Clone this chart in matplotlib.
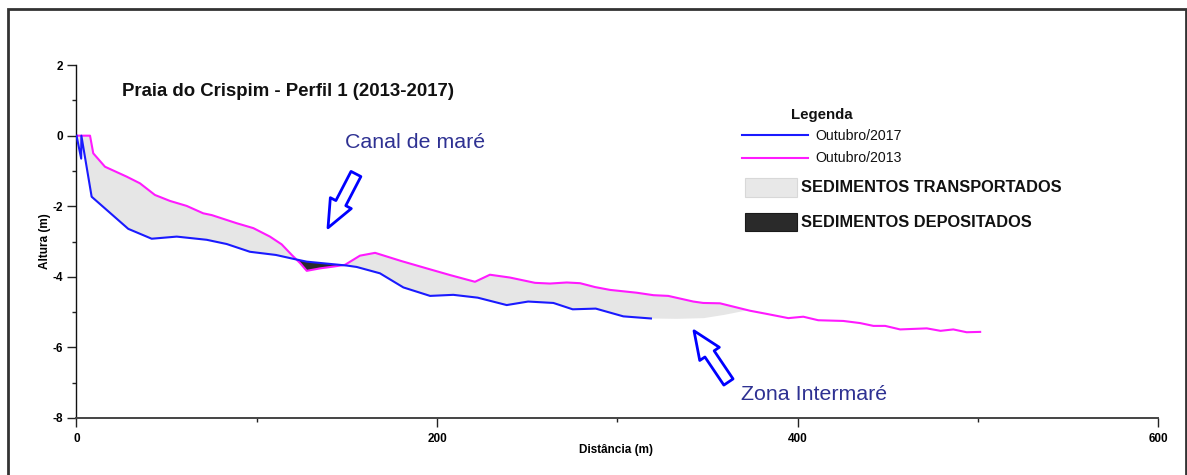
import numpy as np
import matplotlib
matplotlib.use("Agg")
import matplotlib.pyplot as plt
from matplotlib.patches import Rectangle, FancyArrowPatch
from matplotlib.lines import Line2D

# Beach profile surveys: distance along profile (m) and elevation (m)
dist_2013 = [0, 7.5, 9.3, 15.8, 27.8, 35.2, 43.5, 51.9, 61.1, 70.3, 75.0, 88.8,
             98.1, 107.3, 113.8, 119.4, 124.0, 127.7, 135.1, 142.4, 148.9, 157.2,
             165.6, 180.0, 194.2, 207.2, 221.0, 229.3, 240.4, 254.3, 262.6, 271.9,
             279.3, 287.6, 295.9, 310.7, 320.0, 328.2, 342.1, 347.6, 356.9, 362.4,
             373.5, 382.8, 394.8, 403.1, 411.4, 425.3, 434.6, 442.0, 448.5, 456.8,
             471.6, 479.2, 486.3, 493.7, 501.2]
alt_2013 = [0, 0, -0.50, -0.88, -1.16, -1.35, -1.68, -1.85, -1.99, -2.20, -2.25, -2.48,
            -2.62, -2.86, -3.08, -3.38, -3.61, -3.83, -3.76, -3.71, -3.66, -3.40,
            -3.32, -3.55, -3.76, -3.95, -4.14, -3.94, -4.02, -4.17, -4.19, -4.16,
            -4.18, -4.29, -4.37, -4.45, -4.52, -4.54, -4.70, -4.74, -4.75, -4.82,
            -4.96, -5.05, -5.17, -5.13, -5.23, -5.25, -5.31, -5.39, -5.39, -5.49,
            -5.46, -5.53, -5.49, -5.57, -5.56]

dist_2017 = [0, 2.6, 2.7, 8.4, 28.7, 41.7, 55.6, 72.2, 83.3, 96.2, 110.6, 121.2,
             127.7, 149.9, 155.4, 168.3, 181.3, 196.1, 209.0, 222.5, 238.6, 250.5,
             264.5, 275.2, 288.0, 303.3, 318.6]
alt_2017 = [0, -0.65, 0, -1.73, -2.64, -2.92, -2.86, -2.95, -3.07, -3.29, -3.38, -3.50,
            -3.57, -3.68, -3.72, -3.90, -4.30, -4.54, -4.51, -4.59, -4.80, -4.70,
            -4.74, -4.92, -4.90, -5.12, -5.18]

# Lower edge of the transported-sediment area beyond the end of the 2017 survey
floor_dist = [318.6, 333.0, 348.0, 359.0, 366.0, 372.0]
floor_alt = [-5.18, -5.19, -5.17, -5.08, -5.01, -4.95]

x_ticks = [0, 200, 400, 600]
y_ticks = [-8, -6, -4, -2, 0, 2]

W, H = 1187, 475
FONT = "Liberation Sans"
LABEL_BLUE = "#2e3192"


def fx(px):
    return px / W


def fy(py):
    return 1 - py / H


fig = plt.figure(figsize=(W / 100, H / 100), dpi=100)
fig.patch.set_facecolor("white")

ax = fig.add_axes([fx(76.5), fy(418), fx(1158.3) - fx(76.5), fy(65.1) - fy(418)])
ax.set_xlim(0, 600)
ax.set_ylim(-8, 2)

# Shaded areas between the two surveys
lower_x = np.array(dist_2017 + floor_dist[1:])
lower_y = np.array(alt_2017 + floor_alt[1:])
xs = np.unique(np.concatenate([np.array(dist_2013), lower_x]))
xs = xs[xs <= lower_x[-1]]
upper = np.interp(xs, dist_2013, alt_2013)
lower = np.interp(xs, lower_x, lower_y)
ax.fill_between(xs, upper, lower, where=upper >= lower, interpolate=True,
                facecolor="#e6e6e6", edgecolor="none", zorder=1)
ax.fill_between(xs, upper, lower, where=upper < lower, interpolate=True,
                facecolor="#2a2a2a", edgecolor="none", zorder=1)

ax.plot(dist_2017, alt_2017, color="#1a1aff", lw=1.5, zorder=3, solid_joinstyle="round")
ax.plot(dist_2013, alt_2013, color="#ff1aff", lw=1.5, zorder=2, solid_joinstyle="round")

# Axes styling
for side in ("top", "right"):
    ax.spines[side].set_visible(False)
ax.spines["left"].set_color("#111111")
ax.spines["left"].set_linewidth(1.0)
ax.spines["bottom"].set_color("#444444")
ax.spines["bottom"].set_linewidth(1.4)
ax.set_xticks(x_ticks)
ax.set_xticks([100, 300, 500], minor=True)
ax.set_yticks(y_ticks)
ax.set_yticks([-7, -5, -3, -1, 1], minor=True)
ax.set_xticklabels([str(v) for v in x_ticks])
ax.set_yticklabels([str(v) for v in y_ticks])
ax.tick_params(which="major", direction="out", length=6.5, width=1.0, color="#222222")
ax.tick_params(which="minor", direction="out", length=3, width=1.0, color="#222222")
ax.tick_params(axis="x", which="major", pad=4)
ax.tick_params(axis="y", which="major", pad=3)
for lab in ax.get_xticklabels() + ax.get_yticklabels():
    lab.set_fontfamily(FONT)
    lab.set_fontweight("bold")
    lab.set_fontsize(8.5)

fig.text(fx(616), fy(450), "Distância (m)", ha="center", va="center",
         fontfamily=FONT, fontweight="bold", fontsize=8.5)
fig.text(fx(45), fy(241), "Altura (m)", ha="center", va="center", rotation=90,
         fontfamily=FONT, fontweight="bold", fontsize=8.5)

# Title
fig.text(fx(122), fy(91), "Praia do Crispim - Perfil 1 (2013-2017)", ha="left", va="center",
         fontfamily=FONT, fontweight="bold", fontsize=13.4, color="#111111")

# Annotations
fig.text(fx(345), fy(143), "Canal de maré", ha="left", va="center",
         fontfamily=FONT, fontsize=15.4, color=LABEL_BLUE)
fig.text(fx(741), fy(395), "Zona Intermaré", ha="left", va="center",
         fontfamily=FONT, fontsize=15.4, color=LABEL_BLUE)

arrow_style = "simple,head_length=20,head_width=17,tail_width=8"
ax.add_patch(FancyArrowPatch((155.0, -1.085), (139.5, -2.61), arrowstyle=arrow_style,
                             mutation_scale=1, shrinkA=0, shrinkB=0, facecolor="white",
                             edgecolor="#0000ff", lw=2.0, zorder=5, clip_on=False))
ax.add_patch(FancyArrowPatch((361.6, -6.98), (342.5, -5.53), arrowstyle=arrow_style,
                             mutation_scale=1, shrinkA=0, shrinkB=0, facecolor="white",
                             edgecolor="#0000ff", lw=2.0, zorder=5, clip_on=False))

# Legend
fig.text(fx(791), fy(115), "Legenda", ha="left", va="center",
         fontfamily=FONT, fontweight="bold", fontsize=10.8, color="#111111")
fig.add_artist(Line2D([fx(742), fx(808)], [fy(134.5), fy(134.5)], color="#1a1aff", lw=1.5))
fig.text(fx(815), fy(136), "Outubro/2017", ha="left", va="center",
         fontfamily=FONT, fontsize=10.2, color="#111111")
fig.add_artist(Line2D([fx(742), fx(808)], [fy(157.7), fy(157.7)], color="#ff1aff", lw=1.5))
fig.text(fx(815), fy(158.5), "Outubro/2013", ha="left", va="center",
         fontfamily=FONT, fontsize=10.2, color="#111111")
fig.add_artist(Rectangle((fx(745), fy(197.3)), fx(796.7) - fx(745), fy(178.3) - fy(197.3),
                         transform=fig.transFigure, facecolor="#e8e8e8",
                         edgecolor="#d8d8d8", lw=0.8))
fig.text(fx(801), fy(188), "SEDIMENTOS TRANSPORTADOS", ha="left", va="center",
         fontfamily=FONT, fontweight="bold", fontsize=11.8, color="#111111")
fig.add_artist(Rectangle((fx(745), fy(230.7)), fx(796.7) - fx(745), fy(212.7) - fy(230.7),
                         transform=fig.transFigure, facecolor="#2a2a2a",
                         edgecolor="#1a1a1a", lw=0.8))
fig.text(fx(801), fy(222.5), "SEDIMENTOS DEPOSITADOS", ha="left", va="center",
         fontfamily=FONT, fontweight="bold", fontsize=11.8, color="#111111")

# Outer frame
fig.add_artist(Rectangle((fx(7.5), fy(500)), fx(1185.5) - fx(7.5), fy(8.5) - fy(500),
                         transform=fig.transFigure, facecolor="none",
                         edgecolor="#333333", lw=2.0, clip_on=False))

fig.savefig("out.png", dpi=100, facecolor="white")
